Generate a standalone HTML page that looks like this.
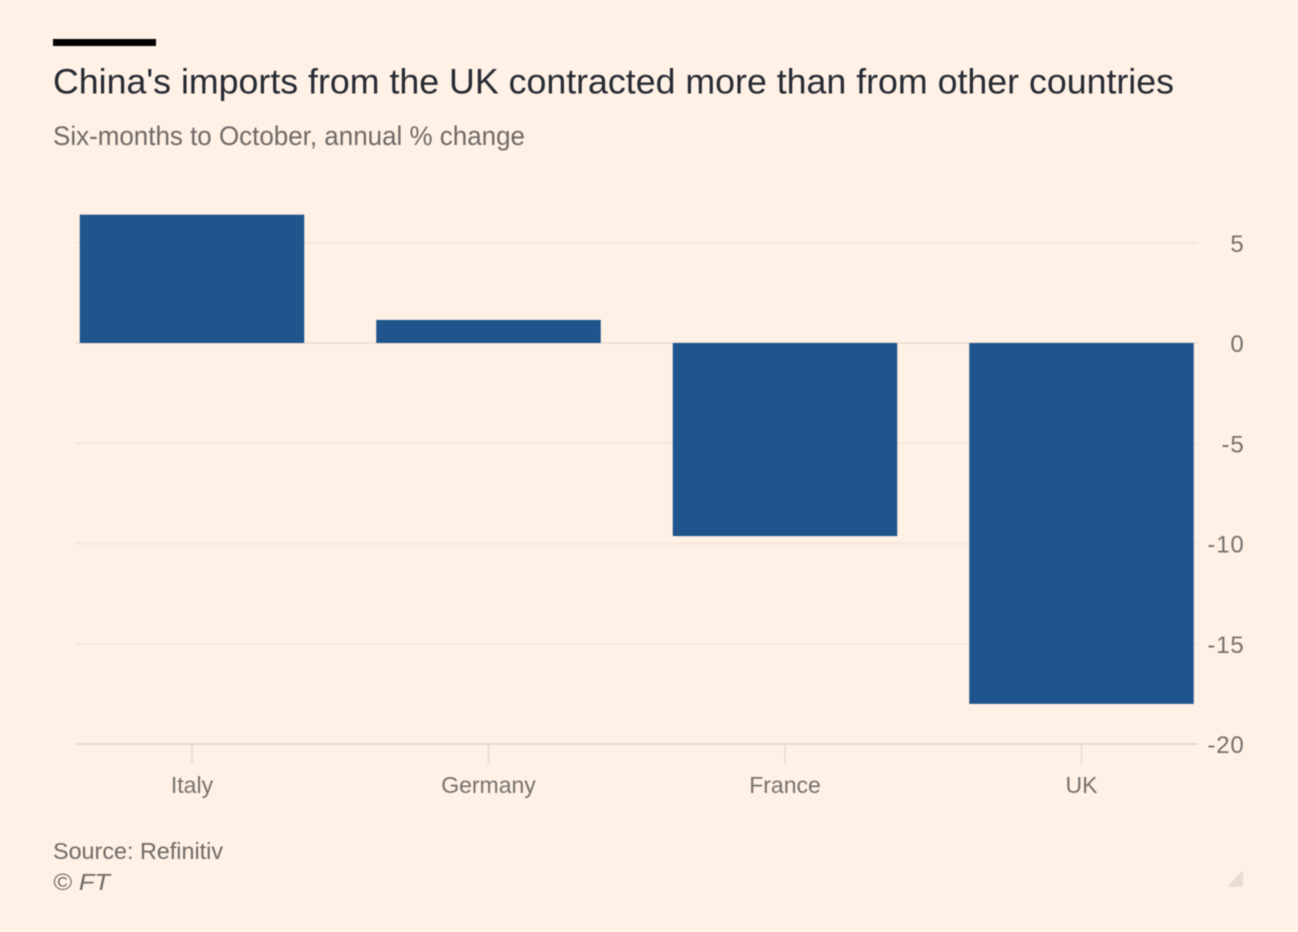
<!DOCTYPE html>
<html lang="en">
<head>
<meta charset="utf-8">
<title>China's imports from the UK contracted more than from other countries</title>
<style>
  html, body { margin: 0; padding: 0; background: #fff1e5; }
  body { width: 1298px; height: 932px; overflow: hidden; }
  svg { display: block; filter: blur(0.45px); }
  text { font-family: "Liberation Sans", sans-serif; }
</style>
</head>
<body>
<svg id="chart" xmlns="http://www.w3.org/2000/svg" width="1298" height="932" viewBox="0 0 1298 932">
  <rect x="0" y="0" width="1298" height="932" fill="#fff1e5"/>
  <rect x="53" y="39" width="103" height="7" fill="#000000"/>
  <text x="53" y="93.5" font-size="35.5" fill="#262a33" textLength="1121" lengthAdjust="spacingAndGlyphs">China's imports from the UK contracted more than from other countries</text>
  <text x="53" y="145" font-size="27" fill="#6f6a68" textLength="472" lengthAdjust="spacingAndGlyphs">Six-months to October, annual % change</text>
  <g id="grid"></g>
  <g id="bars"></g>
  <g id="x-axis"></g>
  <g id="y-axis"></g>
  <text x="53" y="859" font-size="23.5" fill="#6f6a68" textLength="170" lengthAdjust="spacingAndGlyphs">Source: Refinitiv</text>
  <text x="53" y="890" font-size="23" font-style="italic" fill="#6f6a68" textLength="57" lengthAdjust="spacingAndGlyphs">© FT</text>
  <polygon points="1243,870 1243,887 1227,887" fill="#e9ddd3"/>
</svg>
<script>
const categories = ["Italy", "Germany", "France", "UK"];
const seriesValues = [6.4, 1.15, -9.63, -18.0];
const yTicks = [5, 0, -5, -10, -15, -20];
const yTickLabels = ["5", "0", "-5", "-10", "-15", "-20"];

const svgNS = "http://www.w3.org/2000/svg";
const plotLeft = 75;
const plotRight = 1198;

function yScale(v) {
  return 343 + (0 - v) * 20.05;
}
function xCenter(i) {
  return 192 + i * 296.5;
}
const barWidth = 224.5;

const gridGroup = document.getElementById("grid");
const barGroup = document.getElementById("bars");
const xGroup = document.getElementById("x-axis");
const yGroup = document.getElementById("y-axis");

yTicks.forEach(function (t, i) {
  const line = document.createElementNS(svgNS, "line");
  
  
  line.setAttribute("x1", plotLeft);
  line.setAttribute("x2", plotRight);
  line.setAttribute("y1", yScale(t));
  line.setAttribute("y2", yScale(t));
  line.setAttribute("stroke", t === -20 ? "#e6d9ce" : (t === 0 ? "#e9dccf" : "#f3e5d9"));
  line.setAttribute("stroke-width", t === -20 ? 2 : 1.5);
  gridGroup.appendChild(line);

  const label = document.createElementNS(svgNS, "text");
  
  
  label.setAttribute("x", 1244.5);
  label.setAttribute("y", yScale(t) + 9);
  label.setAttribute("text-anchor", "end");
  label.setAttribute("font-size", "24");
  label.setAttribute("letter-spacing", "0.8");
  label.setAttribute("fill", "#76716e");
  label.textContent = yTickLabels[i];
  yGroup.appendChild(label);
});

categories.forEach(function (c, i) {
  const v = seriesValues[i];
  const bar = document.createElementNS(svgNS, "rect");
  
  
  bar.setAttribute("x", xCenter(i) - barWidth / 2);
  bar.setAttribute("width", barWidth);
  bar.setAttribute("y", Math.min(yScale(v), yScale(0)));
  bar.setAttribute("height", Math.abs(yScale(v) - yScale(0)));
  bar.setAttribute("fill", "#1f558c");
  barGroup.appendChild(bar);

  const tick = document.createElementNS(svgNS, "line");
  
  
  tick.setAttribute("x1", xCenter(i));
  tick.setAttribute("x2", xCenter(i));
  tick.setAttribute("y1", yScale(-20));
  tick.setAttribute("y2", yScale(-20) + 20);
  tick.setAttribute("stroke", "#e6d9ce");
  tick.setAttribute("stroke-width", 1.5);
  xGroup.appendChild(tick);

  const label = document.createElementNS(svgNS, "text");
  
  
  label.setAttribute("x", xCenter(i));
  label.setAttribute("y", 793);
  label.setAttribute("text-anchor", "middle");
  label.setAttribute("font-size", "23");
  label.setAttribute("fill", "#76716e");
  label.textContent = c;
  xGroup.appendChild(label);
});
</script>
</body>
</html>
